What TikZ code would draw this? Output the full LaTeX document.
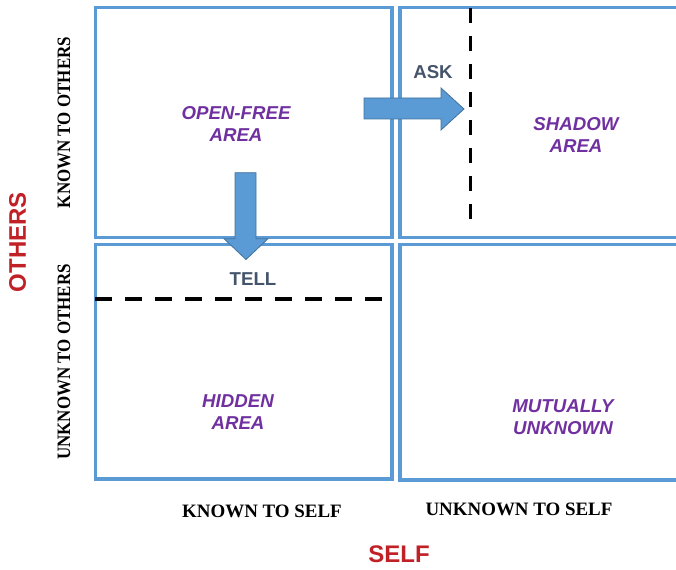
\documentclass[tikz,border=0pt]{standalone}
\usepackage{fontspec}
\setmainfont{Liberation Serif}
\newfontfamily\arialfont{Liberation Sans}
\usetikzlibrary{fit}
\definecolor{quadblue}{HTML}{5B9BD5}
\definecolor{arrowedge}{HTML}{41719C}
\definecolor{areapurple}{HTML}{7030A0}
\definecolor{actionslate}{HTML}{44546A}
\definecolor{axisred}{RGB}{192,33,39}
\tikzset{
  quad/.style={draw=quadblue, line width=2.6pt, inner sep=0pt},
  arealabel/.style={font=\arialfont\bfseries\itshape\fontsize{14}{16.5}\selectfont,
    text=areapurple, align=center, inner sep=0pt},
  actionlabel/.style={font=\arialfont\bfseries\fontsize{14}{16}\selectfont,
    text=actionslate, inner sep=0pt},
  axislabel/.style={font=\arialfont\bfseries\fontsize{18}{20}\selectfont,
    text=axisred, inner sep=0pt},
  sidelabel/.style={font=\bfseries\fontsize{14.2}{16}\selectfont, inner sep=0pt},
  blockarrow/.style={fill=quadblue, draw=arrowedge, line width=0.6pt, line join=miter},
  divider/.style={draw=black, line width=2.6pt},
}
% narrower setting of the vertical side captions
\newcommand{\narrowcaption}[1]{\scalebox{0.895}[1]{#1}}
\begin{document}
\begin{tikzpicture}[x=0.75pt, y=-0.75pt]
  \useasboundingbox (0,0) rectangle (676,570);
  \clip (0,0) rectangle (676,570);

  % the four quadrants of the window
  \node[quad, fit={(95.5,7.7) (392,237.5)}] (openq) {};
  \node[quad, fit={(400,7.7) (690,237.5)}] (shadowq) {};
  \node[quad, fit={(95.5,244.5) (392,479)}] (hiddenq) {};
  \node[quad, fit={(400,244.5) (690,480)}] (unknownq) {};

  % dividing lines
  \coordinate (vtop) at (470.7,8);
  \coordinate (vbot) at (470.7,227);
  \coordinate (hleft) at (95,299);
  \coordinate (hright) at (382,299);
  \draw[divider, dash pattern=on 11.25pt off 9.75pt] (vtop) -- (vbot);
  \draw[divider, dash pattern=on 12.75pt off 9.75pt] (hleft) -- (hright);

  % block arrows
  \draw[blockarrow] (235,172.7) -- (256,172.7) -- (256,238.7) -- (268,238.7)
    -- (246,259.5) -- (224,238.7) -- (235,238.7) -- cycle;
  \draw[blockarrow] (364,98) -- (441,98) -- (441,88) -- (464,109)
    -- (441,130) -- (441,119) -- (364,119) -- cycle;

  % area names
  \node[arealabel] (open) at (236,124) {OPEN-FREE\\AREA};
  \node[arealabel] (shadow) at (576,134.5) {SHADOW\\AREA};
  \node[arealabel] (hidden) at (238,412) {HIDDEN\\AREA};
  \node[arealabel] (mutual) at (563,417) {MUTUALLY\\UNKNOWN};

  % actions
  \node[actionlabel] (ask) at (433,72) {ASK};
  \node[actionlabel] (tell) at (253,279) {TELL};

  % axes
  \node[axislabel, rotate=90] (others) at (17.5,242) {OTHERS};
  \node[axislabel] (self) at (399,554) {SELF};
  \node[sidelabel, rotate=90] (knownothers) at (64,122.5) {\narrowcaption{KNOWN TO OTHERS}};
  \node[sidelabel, rotate=90] (unknownothers) at (64,362) {\narrowcaption{UNKNOWN TO OTHERS}};
  \node[sidelabel] (knownself) at (262,511) {KNOWN TO SELF};
  \node[sidelabel] (unknownself) at (519,509) {UNKNOWN TO SELF};
\end{tikzpicture}
\end{document}
